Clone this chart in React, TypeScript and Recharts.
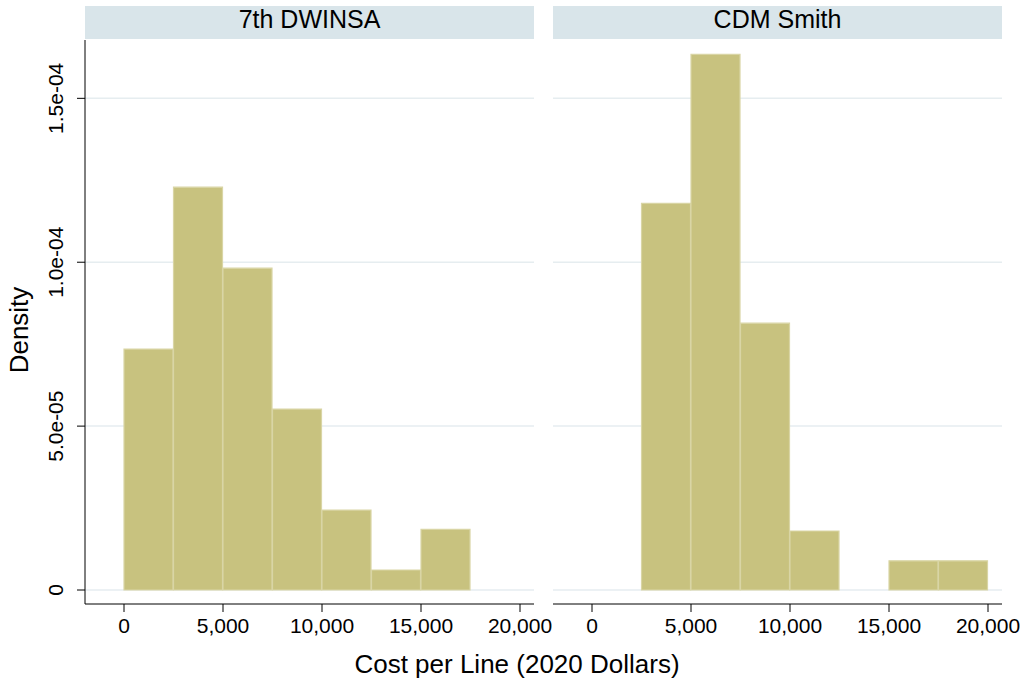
import { Bar, BarChart, CartesianGrid, XAxis, YAxis } from "recharts";

const binMids = [1250, 3750, 6250, 8750, 11250, 13750, 16250, 18750];
const dwinsaDensity = [7.35e-5, 1.229e-4, 9.82e-5, 5.52e-5, 2.44e-5, 6.1e-6, 1.85e-5, 0];
const cdmDensity = [0, 1.18e-4, 1.634e-4, 8.14e-5, 1.8e-5, 0, 8.9e-6, 8.9e-6];
const panelTitles = ["7th DWINSA", "CDM Smith"];
const xTicks = [0, 5000, 10000, 15000, 20000];
const yTicks = [0, 5e-5, 1e-4, 1.5e-4];
const yTickLabels = ["0", "5.0e-05", "1.0e-04", "1.5e-04"];

const FONT = "'Liberation Sans', Arial, sans-serif";
const BAR_FILL = "#c8c27f";
const BAR_EDGE = "#d9d5a5";
const X_DOMAIN = [-1970, 20707];
const Y_DOMAIN = [-4.27e-6, 1.678e-4];

const toRows = (vals: number[]) => binMids.map((mid, i) => ({ mid, density: vals[i] }));

function YTick(props: any) {
  const { x, y, payload } = props;
  const idx = yTicks.indexOf(payload.value);
  return (
    <text
      x={x}
      y={y}
      transform={`rotate(-90, ${x}, ${y})`}
      textAnchor="middle"
      fontSize={21}
      fontFamily={FONT}
      fill="#000"
    >
      {idx >= 0 ? yTickLabels[idx] : payload.value}
    </text>
  );
}

function Panel({ vals, width, margin, showY }: { vals: number[]; width: number; margin: any; showY: boolean }) {
  return (
    <BarChart
      width={width}
      height={683}
      data={toRows(vals)}
      margin={margin}
      barCategoryGap={0}
      barGap={0}
    >
      <CartesianGrid vertical={false} horizontalValues={yTicks} stroke="#e6edf0" strokeWidth={1.5} />
      <XAxis
        type="number"
        dataKey="mid"
        domain={X_DOMAIN}
        allowDataOverflow
        ticks={xTicks}
        tickFormatter={(v: number) => v.toLocaleString("en-US")}
        height={30}
        tickSize={8}
        tickMargin={6}
        stroke="#000"
        tick={{ fill: "#000", fontSize: 21, fontFamily: FONT }}
        interval={0}
      />
      <YAxis
        hide={!showY}
        type="number"
        domain={Y_DOMAIN}
        allowDataOverflow
        ticks={yTicks}
        width={60}
        tickSize={8}
        tickMargin={14}
        stroke="#000"
        tick={<YTick />}
        interval={0}
      />
      <Bar dataKey="density" fill={BAR_FILL} stroke={BAR_EDGE} strokeWidth={1.2} isAnimationActive={false} />
    </BarChart>
  );
}

export default function App() {
  const strip = (left: number, title: string) => (
    <div
      style={{
        position: "absolute",
        left,
        top: 6,
        width: 449,
        height: 33,
        background: "#d9e5ea",
        textAlign: "center",
        lineHeight: "27px",
        fontSize: 25,
        fontFamily: FONT,
        color: "#000",
        overflow: "hidden",
      }}
    >
      {title}
    </div>
  );

  return (
    <div style={{ position: "absolute", left: 0, top: 0, width: 1024, height: 683, background: "#fff" }}>
      <div style={{ position: "absolute", left: 0, top: 0 }}>
        <Panel vals={dwinsaDensity} width={553} margin={{ top: 40, right: 19, bottom: 49, left: 25 }} showY />
      </div>
      <div style={{ position: "absolute", left: 553, top: 0 }}>
        <Panel vals={cdmDensity} width={471} margin={{ top: 40, right: 22, bottom: 49, left: 0 }} showY={false} />
      </div>
      {strip(85, panelTitles[0])}
      {strip(553, panelTitles[1])}
      <div
        style={{
          position: "absolute",
          left: 517,
          top: 651,
          transform: "translateX(-50%)",
          whiteSpace: "nowrap",
          fontSize: 26,
          lineHeight: "26px",
          fontFamily: FONT,
          color: "#000",
        }}
      >
        Cost per Line (2020 Dollars)
      </div>
      <div
        style={{
          position: "absolute",
          left: 18.6,
          top: 330,
          transform: "translate(-50%, -50%) rotate(-90deg)",
          whiteSpace: "nowrap",
          fontSize: 26,
          lineHeight: "26px",
          fontFamily: FONT,
          color: "#000",
        }}
      >
        Density
      </div>
    </div>
  );
}
